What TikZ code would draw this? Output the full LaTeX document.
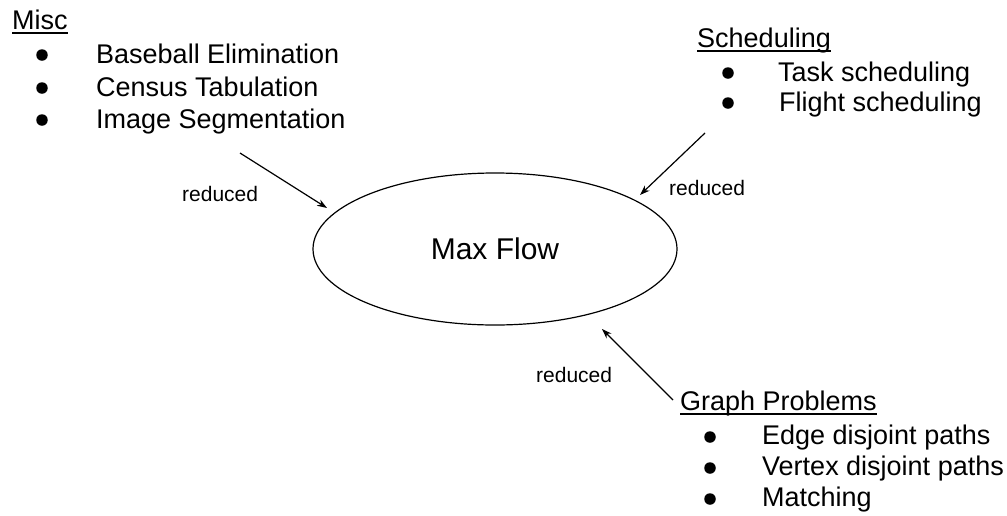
\documentclass[tikz,border=0pt]{standalone}
\usepackage{fontspec}
\setmainfont{Liberation Sans}
\usetikzlibrary{shapes.geometric,arrows.meta}
\begin{document}
\begin{tikzpicture}[x=1pt,y=-1pt,
  txt/.style={anchor=base west,inner sep=0pt,font=\fontsize{27}{32}\selectfont},
  lbl/.style={anchor=base west,inner sep=0pt,font=\fontsize{21}{25}\selectfont},
  bul/.style={circle,fill=black,inner sep=0pt,minimum size=11.5pt},
  ul/.style={line width=1.2pt},
  conn/.style={line width=1.2pt,-{Stealth[length=10pt,width=7pt]}}]
\useasboundingbox (0,0) rectangle (1007,515);
% centre
\node[draw,ellipse,line width=1.2pt,minimum width=364pt,minimum height=152pt,inner sep=0pt,
      font=\fontsize{30}{36}\selectfont] (mf) at (495,249) {Max Flow};
% Misc
\node[txt] (misc) at (12,29) {Misc};
\draw[ul] ([yshift=-4pt]misc.base west) -- ([yshift=-4pt]misc.base east);
\node[bul] (mb1) at (42,55) {};
\node[txt] (m1) at (96,63) {Baseball Elimination};
\node[bul] (mb2) at (42,88) {};
\node[txt] (m2) at (96,96) {Census Tabulation};
\node[bul] (mb3) at (42,120) {};
\node[txt] (m3) at (96,128) {Image Segmentation};
% Scheduling
\node[txt] (sch) at (697,47) {Scheduling};
\draw[ul] ([yshift=-4pt]sch.base west) -- ([yshift=-4pt]sch.base east);
\node[bul] (sb1) at (728,73) {};
\node[txt] (s1) at (778,81) {Task scheduling};
\node[bul] (sb2) at (728,103) {};
\node[txt] (s2) at (779,111) {Flight scheduling};
% Graph problems
\node[txt] (gp) at (680,410) {Graph Problems};
\draw[ul] ([yshift=-4pt]gp.base west) -- ([yshift=-4pt]gp.base east);
\node[bul] (gb1) at (710,437) {};
\node[txt] (g1) at (762,444) {Edge disjoint paths};
\node[bul] (gb2) at (710,468) {};
\node[txt] (g2) at (762,475) {Vertex disjoint paths};
\node[bul] (gb3) at (710,499) {};
\node[txt] (g3) at (762,506) {Matching};
% connectors
\coordinate (a1s) at (240,153);
\coordinate (a1e) at (327,208);
\coordinate (a2s) at (705,133);
\coordinate (a2e) at (640,195);
\coordinate (a3s) at (673,400);
\coordinate (a3e) at (602,329);
\draw[conn] (a1s) -- (a1e);
\draw[conn] (a2s) -- (a2e);
\draw[conn] (a3s) -- (a3e);
\node[lbl] (r1) at (182,201) {reduced};
\node[lbl] (r2) at (669,195) {reduced};
\node[lbl] (r3) at (536,382) {reduced};
\end{tikzpicture}
\end{document}
